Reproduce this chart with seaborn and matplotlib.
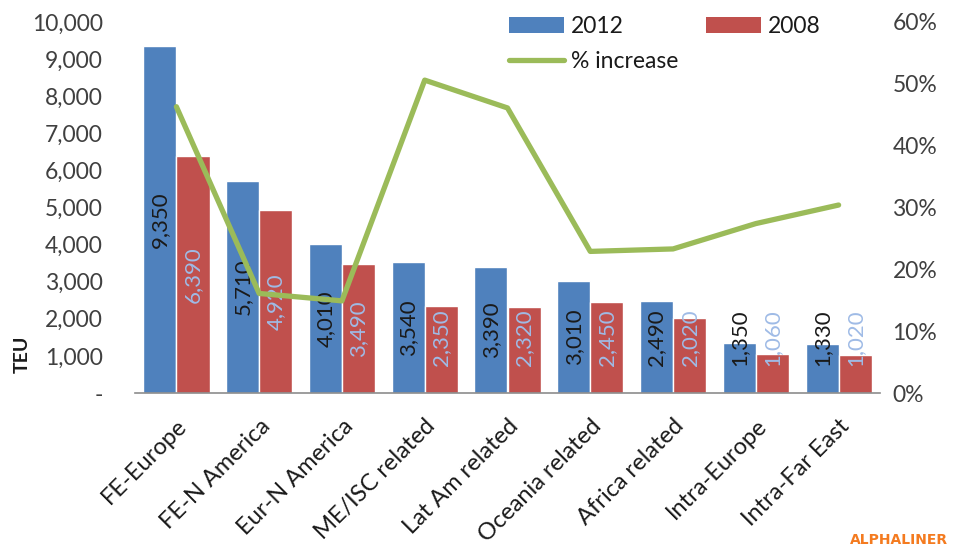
import numpy as np
import pandas as pd
import matplotlib
matplotlib.use("Agg")
import matplotlib.pyplot as plt
from matplotlib.patches import Patch
from matplotlib.lines import Line2D
from matplotlib.ticker import FuncFormatter, FixedLocator
import seaborn as sns

# Trade lanes and capacity (TEU) deployed per lane
routes = ["FE-Europe", "FE-N America", "Eur-N America", "ME/ISC related",
          "Lat Am related", "Oceania related", "Africa related",
          "Intra-Europe", "Intra-Far East"]
teu_2012 = [9350, 5710, 4010, 3540, 3390, 3010, 2490, 1350, 1330]
teu_2008 = [6390, 4920, 3490, 2350, 2320, 2450, 2020, 1060, 1020]
pct_increase = [46.3, 16.1, 14.9, 50.6, 46.1, 22.9, 23.3, 27.4, 30.4]
years = ["2012", "2008"]
left_ticks = [0, 1000, 2000, 3000, 4000, 5000, 6000, 7000, 8000, 9000, 10000]
right_ticks = [0, 10, 20, 30, 40, 50, 60]

BLUE = "#4f81bd"
RED = "#c0504d"
GREEN = "#9bbb59"
TXT = "#404040"

sns.set_style("white")
plt.rcParams["font.family"] = ["Lato", "DejaVu Sans"]

df = pd.DataFrame({
    "route": routes * 2,
    "TEU": teu_2012 + teu_2008,
    "year": [years[0]] * len(routes) + [years[1]] * len(routes),
})

fig = plt.figure(figsize=(9.6, 5.49), dpi=100)
ax = fig.add_axes([135 / 960, 1 - 393 / 549, (880 - 135) / 960, (393 - 22) / 549])

sns.barplot(data=df, x="route", y="TEU", hue="year", hue_order=years,
            order=routes, palette=[BLUE, RED], width=0.8, saturation=1,
            legend=False, ax=ax)

ax.set_xlim(-0.5, len(routes) - 0.5)
ax.set_ylim(0, 10000)
ax.set_xlabel("")
ax.set_ylabel("")

# Value labels inside the bars, rotated vertically
label_floor = 1480
for i, (a, b) in enumerate(zip(teu_2012, teu_2008)):
    ax.text(i - 0.2, max(a / 2, label_floor), f"{a:,}", rotation=90,
            ha="center", va="center", fontsize=16, color="#1a1a1a")
    ax.text(i + 0.2, max(b / 2, label_floor), f"{b:,}", rotation=90,
            ha="center", va="center", fontsize=16, color="#9fbbe6")

# Left axis
ax.yaxis.set_major_locator(FixedLocator(left_ticks))
ax.yaxis.set_major_formatter(FuncFormatter(lambda v, p: "-" if v == 0 else f"{int(v):,}"))
ax.tick_params(axis="y", length=0, pad=23, labelsize=16.5, labelcolor=TXT)

# Category axis: labels at centres, tick marks between groups
ax.set_xticks(range(len(routes)))
ax.set_xticklabels(routes, rotation=45, ha="right", rotation_mode="anchor")
ax.set_xticks(np.arange(-0.5, len(routes)), minor=True)
ax.tick_params(axis="x", which="major", length=0, pad=16, labelsize=17, labelcolor="#1a1a1a")
ax.tick_params(axis="x", which="minor", length=7, width=1.2, color="#8c8c8c", direction="out")

for side in ["left", "right", "top"]:
    ax.spines[side].set_visible(False)
ax.spines["bottom"].set_color("#8c8c8c")
ax.spines["bottom"].set_linewidth(1.2)

# Secondary axis: percentage increase
ax2 = ax.twinx()
sns.lineplot(x=np.arange(len(routes)), y=pct_increase, color=GREEN,
             linewidth=3.8, sort=False, ax=ax2)
ax2.set_ylim(0, 60)
ax2.yaxis.set_major_locator(FixedLocator(right_ticks))
ax2.yaxis.set_major_formatter(FuncFormatter(lambda v, p: f"{int(v)}%"))
ax2.tick_params(axis="y", length=0, pad=9, labelsize=16.5, labelcolor=TXT)
for side in ["left", "right", "top", "bottom"]:
    ax2.spines[side].set_visible(False)
ax2.set_xlim(-0.5, len(routes) - 0.5)

# Axis title
fig.text(22 / 960, 1 - 354 / 549, "TEU", rotation=90, ha="center", va="center",
         fontsize=14, fontweight="bold", color="#1a1a1a")

# Legend
handles = [Patch(facecolor=BLUE, edgecolor="none"),
           Line2D([0], [0], color=GREEN, linewidth=3.8),
           Patch(facecolor=RED, edgecolor="none")]
labels = ["2012", "% increase", "2008"]
fig.legend(handles, labels, ncol=2, loc="upper left",
           bbox_to_anchor=(509 / 960, 1 - 16 / 549), frameon=False,
           fontsize=16.5, handlelength=2.4, handleheight=0.7, handletextpad=0.3,
           columnspacing=1.2, labelspacing=0.6, borderpad=0, borderaxespad=0,
           labelcolor="#1a1a1a")

# Source credit
fig.text(948 / 960, 1 - 540 / 549, "ALPHALINER", ha="right", va="center",
         fontsize=10, fontweight="bold", color="#f47b20", family="DejaVu Sans")

fig.savefig("out.png", dpi=100)
